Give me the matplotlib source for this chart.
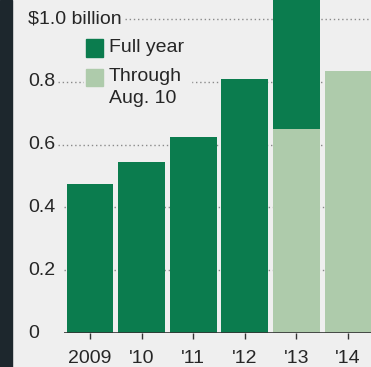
import numpy as np
import matplotlib
matplotlib.use('Agg')
import matplotlib.pyplot as plt
from matplotlib.patches import Rectangle
import matplotlib.transforms as mtransforms

years = ['2009', "'10", "'11", "'12", "'13", "'14"]
full_year = [0.475, 0.545, 0.625, 0.81, 1.10, np.nan]
through_aug10 = [np.nan, np.nan, np.nan, np.nan, 0.65, 0.835]
yticks = [0, 0.2, 0.4, 0.6, 0.8, 1.0]
ytick_labels = ['0', '0.2', '0.4', '0.6', '0.8', '$1.0 billion']

dark = '#0b7c4e'
light = '#aecbab'
bg = '#efefef'
txt = '#262626'

plt.rcParams['font.family'] = ['Liberation Sans', 'DejaVu Sans']

W, H = 371, 367
fig = plt.figure(figsize=(W / 100, H / 100), dpi=100, facecolor=bg)
# dark strip on the left edge
fig.add_artist(Rectangle((0, 0), 12 / W, 1, transform=fig.transFigure,
                         color='#1d272d', zorder=10))

ax = fig.add_axes([64 / W, 34 / H, 307 / W, 333 / H])
ax.set_facecolor(bg)
for s in ax.spines.values():
    s.set_visible(False)

x = np.arange(len(years))
ax.bar(x, full_year, width=0.91, color=dark, zorder=2)
ax.bar(x, through_aug10, width=0.91, color=light, zorder=3)

ax.set_xlim(-0.504, 5.446)
ax.set_ylim(0, 1.06)
ax.axhline(0, color='#333333', lw=1.2, zorder=4)

ax.set_xticks(x)
ax.set_xticklabels(years, fontsize=14, color=txt)
ax.tick_params(axis='x', length=4, width=1, color='#333333', pad=8, direction='out')
ax.set_yticks([])

trans = mtransforms.blended_transform_factory(ax.transAxes, ax.transData)
labels = []
for v, lab in zip(yticks, ytick_labels):
    t = ax.text(-36 / 307, v, lab, transform=trans, ha='left', va='center',
                fontsize=14, color=txt, clip_on=False)
    labels.append(t)

# legend, drawn by hand
ax.add_patch(Rectangle((20 / 307, 0.68), 0.35, 0.22, transform=ax.transAxes,
                       color=bg, zorder=1.5, clip_on=False))
ax.add_patch(Rectangle((22 / 307, 0.829), 17 / 307, 0.054, transform=ax.transAxes,
                       color=dark, zorder=3, clip_on=False))
ax.add_patch(Rectangle((22 / 307, 0.742), 17 / 307, 0.051, transform=ax.transAxes,
                       color=light, zorder=3, clip_on=False))
ax.text(45 / 307, 0.858, 'Full year', transform=ax.transAxes, ha='left', va='center',
        fontsize=14, color=txt)
ax.text(45 / 307, 0.797, 'Through\nAug. 10', transform=ax.transAxes, ha='left', va='top',
        fontsize=14, color=txt, linespacing=1.4)

# dotted gridlines starting right after each label
fig.canvas.draw()
r = fig.canvas.get_renderer()
inv = ax.transAxes.inverted()
for v, t in zip(yticks[1:], labels[1:]):
    bb = t.get_window_extent(r)
    x0 = inv.transform((bb.x1 + 3, 0))[0]
    if v < 0.5:
        x0 = 0
    ax.plot([x0, 1], [v, v], transform=trans, color='#8a8a8a', lw=1,
            ls=(0, (1, 2)), zorder=1, clip_on=False)

fig.savefig('out.png', dpi=100, facecolor=bg)
